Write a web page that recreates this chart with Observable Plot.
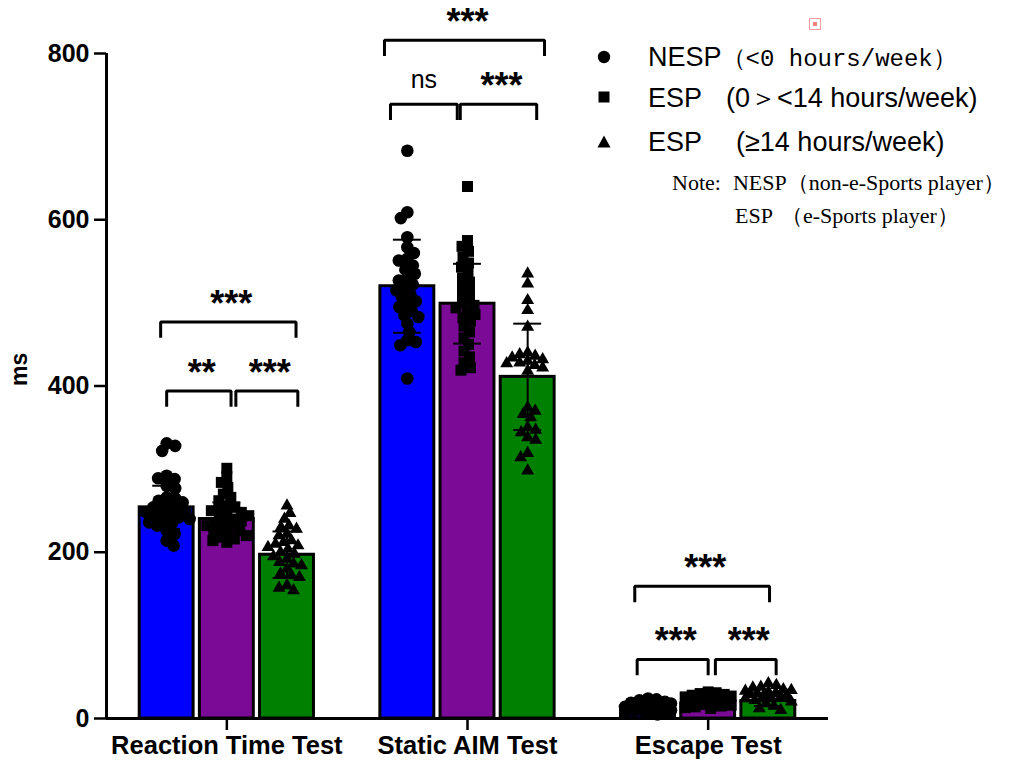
<!DOCTYPE html>
<html>
<head>
<meta charset="utf-8">
<script src="https://cdn.jsdelivr.net/npm/d3@7"></script>
<script src="https://cdn.jsdelivr.net/npm/@observablehq/plot@0.6"></script>
<style>
  body { margin: 0; background: #fff; }
  #wrap { position: relative; width: 1012px; height: 765px; overflow: hidden; background: #fff; }
  #wrap svg { position: absolute; left: 0; top: 0; }
  g[aria-label="sig"] text { letter-spacing: 6px; }
  .lg { position: absolute; white-space: nowrap; line-height: 1; color: #000; }
  .sans { font-family: "Liberation Sans", Arial, sans-serif; font-size: 27px; }
  .mono { font-family: "Liberation Mono", "DejaVu Sans Mono", monospace; font-size: 24px; }
  .serif { font-family: "Liberation Serif", "Times New Roman", serif; font-size: 22px; }
  .mk { position: absolute; }
  .icon { position: absolute; left: 809px; top: 18px; width: 10px; height: 10px; border: 1px solid #f4a0a0; }
  .icon::after { content: ""; position: absolute; left: 3px; top: 3px; width: 4px; height: 4px; background: #f08080; }
</style>
</head>
<body>
<div id="wrap"></div>
<script>
// ---- categories / series ----
const groups = ["Reaction Time Test", "Static AIM Test", "Escape Test"];
const seriesNames = ["NESP (<0 hours/week)", "ESP (0><14 hours/week)", "ESP (≥14 hours/week)"];
const seriesColors = ["#0000ff", "#7b0a97", "#008000"];
const yTicks = [0, 200, 400, 600, 800];

// ---- bar means and SD (per group: RT, AIM, Escape) ----
const meanNESP = [254, 520, 12];
const meanESP1 = [240, 499, 18];
const meanESP2 = [197, 411, 21];
const sdNESP = [26, 56, 5];
const sdESP1 = [20, 48, 5];
const sdESP2 = [28, 64, 6];

// ---- individual points ----
const rtNESP = [331, 328, 322, 292, 289, 288, 280, 277, 266, 265, 262, 260, 256, 254, 252, 250, 249, 248, 246, 244, 242, 240, 238, 236, 235, 232, 226, 222, 214, 208];
const rtESP1 = [301, 291, 284, 278, 270, 266, 262, 256, 254, 252, 250, 248, 246, 244, 242, 240, 238, 236, 234, 232, 230, 228, 226, 224, 222, 220, 218, 216, 214, 212];
const rtESP2 = [256, 247, 240, 232, 230, 228, 222, 220, 214, 212, 210, 208, 206, 204, 200, 198, 195, 192, 188, 186, 184, 180, 174, 172, 170, 160, 157, 154];
const aimNESP = [683, 609, 602, 579, 567, 560, 553, 551, 545, 540, 535, 530, 527, 522, 518, 515, 510, 507, 502, 499, 495, 490, 485, 483, 475, 465, 455, 453, 449, 409];
const aimESP1 = [640, 575, 568, 562, 555, 548, 543, 537, 530, 525, 520, 515, 510, 505, 500, 497, 494, 490, 486, 482, 478, 472, 465, 458, 450, 442, 435, 428, 422, 419];
const aimESP2 = [535, 523, 503, 491, 471, 440, 438, 436, 434, 432, 430, 428, 427, 425, 422, 418, 374, 370, 366, 362, 350, 347, 344, 338, 335, 319, 314, 298];
const escNESP = [24, 23, 22, 20, 19, 18, 17, 16, 15, 14, 14, 13, 12, 12, 11, 10, 10, 9, 9, 8, 8, 7, 6, 5];
const escESP1 = [32, 31, 30, 29, 28, 27, 26, 25, 24, 23, 22, 21, 20, 19, 18, 17, 16, 15, 14, 13, 12];
const escESP2 = [42, 40, 38, 37, 35, 34, 33, 32, 31, 30, 29, 28, 27, 26, 25, 24, 22, 20, 18, 15, 12, 10];

// ---- significance brackets (slot: 0,1,2 = bar centres) ----
const brGroup = [0, 0, 0, 1, 1, 1, 2, 2, 2];
const brFrom  = [-0.1, 0.0, 1.15, -0.38, -0.28, 0.88, -0.22, -0.18, 1.12];
const brTo    = [2.15, 1.07, 2.18, 2.28, 0.83, 2.15, 2.02, 1.0, 2.13];
const brLevel = [477, 394, 394, 816, 739, 739, 159, 71, 71];
const brLabel = ["***", "**", "***", "***", "ns", "***", "***", "***", "***"];

// ---- layout helpers ----
const W = 1012, H = 765, mL = 106, mR = 184, mT = 53, mB = 47;
const xDomain = [-0.5, 2.5], yDomain = [0, 800];
const kx = (W - mL - mR) / (xDomain[1] - xDomain[0]);
const ky = (H - mT - mB) / (yDomain[1] - yDomain[0]);
const slotW = 0.25, halfBar = 0.112, capHalf = 0.058, leg = 19;
const slotX = (g, s) => g + (s - 1) * slotW;

const means = [meanNESP, meanESP1, meanESP2];
const sds = [sdNESP, sdESP1, sdESP2];
const bars = [];
groups.forEach((g, gi) => means.forEach((m, si) => bars.push({gi, si, mean: m[gi], sd: sds[si][gi], fill: seriesColors[si]})));

// beeswarm placement (pixel space) to spread points horizontally
function swarm(values, center, minD, maxOff) {
  const order = values.map((v, i) => i).sort((a, b) => values[b] - values[a]);
  const placed = [];
  const out = new Array(values.length);
  order.forEach((i, n) => {
    const py = values[i] * ky;
    const cands = [0];
    for (let s = 0.5; s <= maxOff; s += 0.5) { if (n % 2) cands.push(s, -s); else cands.push(-s, s); }
    let chosen = null, bestO = 0, bestD = -1;
    for (const o of cands) {
      let md = Infinity;
      for (const q of placed) {
        const d = Math.hypot(o - q.o, py - q.py);
        if (d < md) md = d;
      }
      if (md >= minD) { chosen = o; break; }
      if (md > bestD) { bestD = md; bestO = o; }
    }
    if (chosen === null) chosen = bestO;
    placed.push({o: chosen, py});
    out[i] = {x: center + chosen / kx, y: values[i]};
  });
  return out;
}

const ptsBySeries = [
  [rtNESP, aimNESP, escNESP],
  [rtESP1, aimESP1, escESP1],
  [rtESP2, aimESP2, escESP2]
];
const minDs = [8.5, 8, 8];
const pts = ptsBySeries.map((arrs, si) => arrs.flatMap((vals, gi) => swarm(vals, slotX(gi, si), minDs[si], 23)));

// bracket geometry
const brPts = [];
brGroup.forEach((g, i) => {
  const x1 = slotX(g, brFrom[i]), x2 = slotX(g, brTo[i]), y = brLevel[i];
  brPts.push({id: i, x: x1, y: y - leg}, {id: i, x: x1, y}, {id: i, x: x2, y}, {id: i, x: x2, y: y - leg});
});
const brLab = brGroup.map((g, i) => ({x: (slotX(g, brFrom[i]) + slotX(g, brTo[i])) / 2, y: brLevel[i], label: brLabel[i]}));

const plot = Plot.plot({
  width: W, height: H,
  marginLeft: mL, marginRight: mR, marginTop: mT, marginBottom: mB,
  x: {domain: xDomain, axis: null},
  y: {domain: yDomain, axis: null},
  color: {type: "identity"},
  style: {fontFamily: "'Liberation Sans', Arial, sans-serif", color: "black", background: "transparent", overflow: "visible"},
  marks: [
    Plot.rectY(bars, {x1: d => slotX(d.gi, d.si) - halfBar, x2: d => slotX(d.gi, d.si) + halfBar, y1: 0, y2: "mean", fill: "fill", stroke: "black", strokeWidth: 3}),
    Plot.dot(pts[0], {x: "x", y: "y", r: 6.3, symbol: "circle", fill: "black", stroke: "none"}),
    Plot.dot(pts[1], {x: "x", y: "y", r: 6.2, symbol: "square", fill: "black", stroke: "none"}),
    Plot.dot(pts[2], {x: "x", y: "y", r: 4.8, symbol: "triangle", fill: "black", stroke: "none"}),
    Plot.ruleX(bars, {x: d => slotX(d.gi, d.si), y1: d => d.mean - d.sd, y2: d => d.mean + d.sd, stroke: "black", strokeWidth: 2}),
    Plot.ruleY(bars, {y: d => d.mean + d.sd, x1: d => slotX(d.gi, d.si) - capHalf, x2: d => slotX(d.gi, d.si) + capHalf, stroke: "black", strokeWidth: 2}),
    Plot.ruleY(bars, {y: d => d.mean - d.sd, x1: d => slotX(d.gi, d.si) - capHalf, x2: d => slotX(d.gi, d.si) + capHalf, stroke: "black", strokeWidth: 2}),
    Plot.line(brPts, {x: "x", y: "y", z: "id", stroke: "black", strokeWidth: 3, strokeLinejoin: "miter", strokeLinecap: "butt"}),
    Plot.text(brLab.filter(d => d.label !== "ns"), {x: "x", y: "y", text: "label", fontSize: 36, fontWeight: "bold", dy: -18, dx: 3, ariaLabel: "sig"}),
    Plot.text(brLab.filter(d => d.label === "ns"), {x: "x", y: "y", text: "label", fontSize: 25, dy: -24}),
    Plot.axisY({ticks: yTicks, tickSize: 12, tickPadding: 5, fontSize: 25, fontWeight: "bold", strokeWidth: 2.5, label: null}),
    Plot.axisX({ticks: [0, 1, 2], tickFormat: i => groups[i], tickSize: 12, tickPadding: 5, fontSize: 25.5, fontWeight: "bold", strokeWidth: 2.5, label: null}),
    Plot.ruleX([xDomain[0]], {y1: yDomain[0], y2: yDomain[1], stroke: "black", strokeWidth: 3}),
    Plot.ruleY([0], {x1: xDomain[0], x2: xDomain[1], stroke: "black", strokeWidth: 3}),
    Plot.text(["ms"], {frameAnchor: "left", dx: -87, rotate: -90, fontSize: 23, fontWeight: "bold"})
  ]
});

const wrap = document.getElementById("wrap");
wrap.appendChild(plot);

// legend (HTML overlay)
const legend = document.createElement("div");
legend.innerHTML = `
  <svg class="mk" style="left:597px;top:50px" width="14" height="14"><circle cx="7" cy="7" r="6.2" fill="#000"/></svg>
  <svg class="mk" style="left:598px;top:91px" width="12" height="12"><rect x="0.5" y="0.5" width="11" height="11" fill="#000"/></svg>
  <svg class="mk" style="left:597px;top:135px" width="14" height="13"><path d="M7 0.5 L13.5 12.5 L0.5 12.5 Z" fill="#000"/></svg>
  <div class="lg sans" style="left:648px;top:44px">NESP<span class="mono">（&lt;0 hours/week）</span></div>
  <div class="lg sans" style="left:648px;top:85px">ESP<span style="margin-left:24px">(0＞&lt;14 hours/week)</span></div>
  <div class="lg sans" style="left:648px;top:129px">ESP<span style="margin-left:34px">(≥14 hours/week)</span></div>
  <div class="lg serif" style="left:672px;top:172px">Note:<span style="margin-left:12px">NESP</span>（non-e-Sports player）</div>
  <div class="lg serif" style="left:735px;top:205px">ESP<span style="margin-left:8px">（e-Sports player）</span></div>
  <div class="icon"></div>
`;
wrap.appendChild(legend);
</script>
</body>
</html>
